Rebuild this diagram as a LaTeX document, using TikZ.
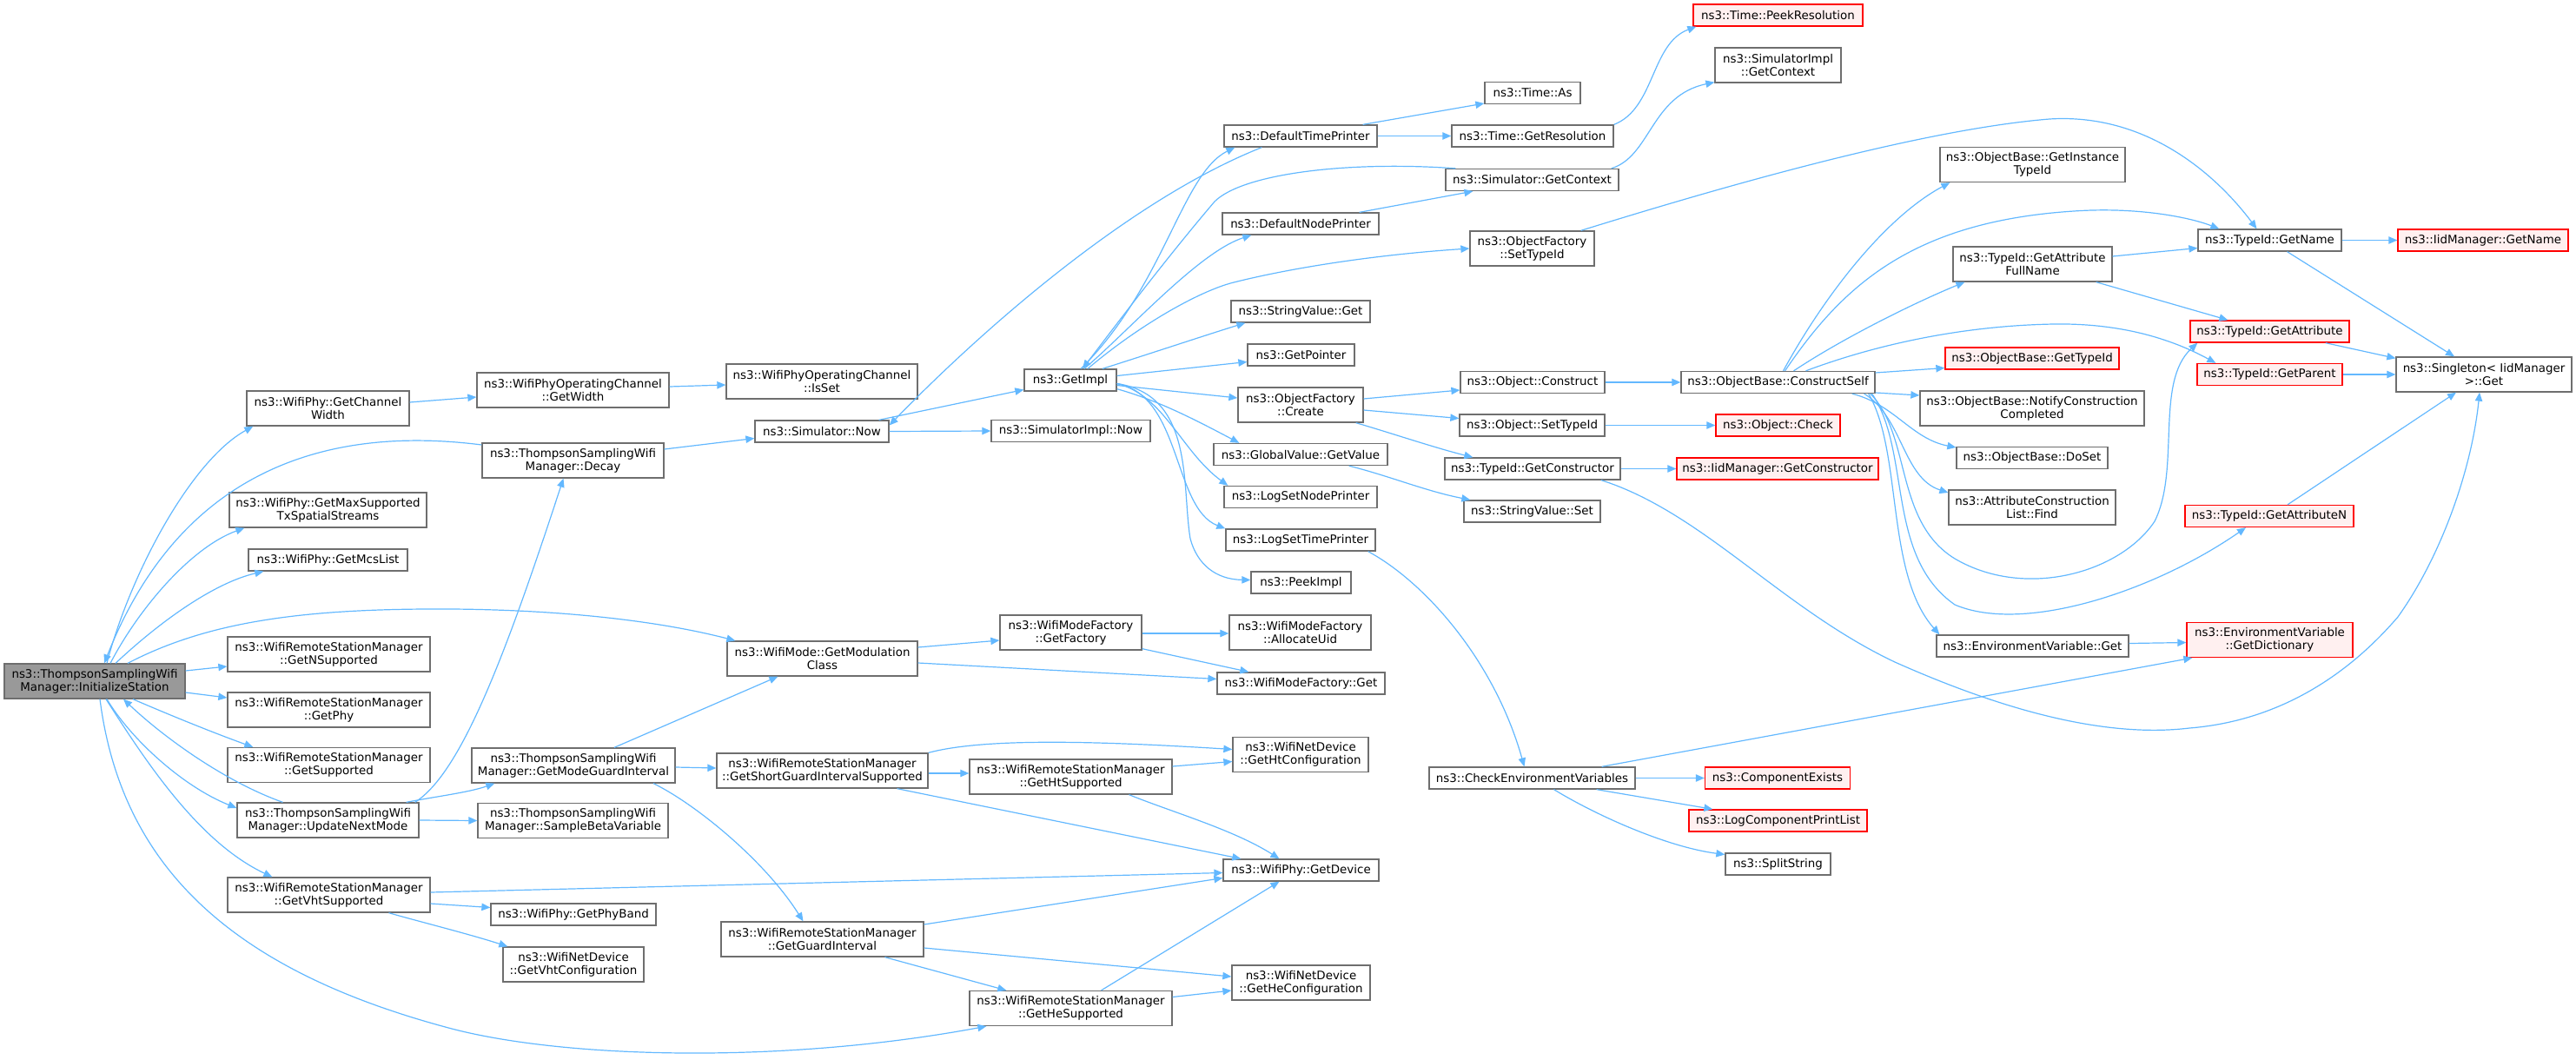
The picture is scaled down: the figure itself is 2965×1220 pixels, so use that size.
\documentclass[tikz,border=0pt]{standalone}
\usepackage{fontspec}
\setmainfont{DejaVu Sans}
\usetikzlibrary{arrows.meta,calc}
\definecolor{edgec}{HTML}{63B8FF}
\definecolor{bord}{HTML}{6E6E6E}
\definecolor{rootfill}{HTML}{999999}
\definecolor{redfill}{HTML}{FFF0F0}
\definecolor{redbord}{HTML}{FF0000}
\tikzset{
  nd/.style={draw=bord, fill=white, line width=0.65pt, inner sep=0pt, align=center,
    font=\fontsize{6.7pt}{7.4pt}\selectfont, text=black},
  rootnd/.style={fill=rootfill},
  rednd/.style={draw=redbord, fill=redfill},
  e/.style={draw=edgec, line width=0.6pt, -{Triangle[length=5pt,width=4.2pt]}}
}
\newcommand\bx[7][]{\node[nd,#1,minimum width=#5*0.5pt,minimum height=#6*0.5pt] (#2) at (#3,#4) {#7};}
\begin{document}
\begin{tikzpicture}[x=0.5pt,y=-0.5pt]
\useasboundingbox (0,0) rectangle (2965,1220);
% ---- nodes ----
\bx[rootnd]{init}{109}{784}{208}{40}{ns3::ThompsonSamplingWifi\\Manager::InitializeStation}
\bx{chw}{377.5}{470}{187}{40}{ns3::WifiPhy::GetChannel\\Width}
\bx{maxsup}{377.5}{587}{227}{40}{ns3::WifiPhy::GetMaxSupported\\TxSpatialStreams}
\bx{mcs}{377.5}{644.5}{183}{25}{ns3::WifiPhy::GetMcsList}
\bx{nsup}{378.5}{753}{233}{40}{ns3::WifiRemoteStationManager\\::GetNSupported}
\bx{getphy}{378.5}{817}{233}{40}{ns3::WifiRemoteStationManager\\::GetPhy}
\bx{getsup}{378.5}{880.5}{233}{40}{ns3::WifiRemoteStationManager\\::GetSupported}
\bx{unm}{377.5}{944}{209}{40}{ns3::ThompsonSamplingWifi\\Manager::UpdateNextMode}
\bx{vht}{378.5}{1030}{233}{40}{ns3::WifiRemoteStationManager\\::GetVhtSupported}
\bx{width}{659.5}{449}{221}{40}{ns3::WifiPhyOperatingChannel\\::GetWidth}
\bx{decay}{659.5}{530}{209}{40}{ns3::ThompsonSamplingWifi\\Manager::Decay}
\bx{gmgi}{660}{881}{234}{40}{ns3::ThompsonSamplingWifi\\Manager::GetModeGuardInterval}
\bx{sbv}{659.5}{944.5}{219}{40}{ns3::ThompsonSamplingWifi\\Manager::SampleBetaVariable}
\bx{phyband}{660}{1052.5}{190}{25}{ns3::WifiPhy::GetPhyBand}
\bx{vhtconf}{660}{1110}{162}{40}{ns3::WifiNetDevice\\::GetVhtConfiguration}
\bx{isset}{946}{439}{220}{40}{ns3::WifiPhyOperatingChannel\\::IsSet}
\bx{simnow}{946}{496.5}{154}{25}{ns3::Simulator::Now}
\bx{modclass}{946.5}{758}{219}{40}{ns3::WifiMode::GetModulation\\Class}
\bx{sgis}{946.5}{887}{243}{40}{ns3::WifiRemoteStationManager\\::GetShortGuardIntervalSupported}
\bx{gi}{946.5}{1081}{233}{40}{ns3::WifiRemoteStationManager\\::GetGuardInterval}
\bx{getimpl}{1232}{437.5}{106}{25}{ns3::GetImpl}
\bx{simimplnow}{1232.5}{496}{183}{25}{ns3::SimulatorImpl::Now}
\bx{getfactory}{1232.5}{728}{163}{40}{ns3::WifiModeFactory\\::GetFactory}
\bx{htsup}{1232.5}{894}{233}{40}{ns3::WifiRemoteStationManager\\::GetHtSupported}
\bx{hesup}{1232.5}{1160.5}{233}{40}{ns3::WifiRemoteStationManager\\::GetHeSupported}
\bx{dtp}{1497}{156.5}{176}{25}{ns3::DefaultTimePrinter}
\bx{dnp}{1497}{257.5}{180}{25}{ns3::DefaultNodePrinter}
\bx{svget}{1497}{358.5}{160}{25}{ns3::StringValue::Get}
\bx{getptr}{1497.5}{408.5}{123}{25}{ns3::GetPointer}
\bx{ofcreate}{1497}{466}{144}{40}{ns3::ObjectFactory\\::Create}
\bx{gvget}{1497}{523}{200}{25}{ns3::GlobalValue::GetValue}
\bx{lsnp}{1497}{572}{176}{25}{ns3::LogSetNodePrinter}
\bx{lstp}{1497}{621.5}{172}{25}{ns3::LogSetTimePrinter}
\bx{peekimpl}{1497.5}{670.5}{115}{25}{ns3::PeekImpl}
\bx{allocuid}{1496.5}{728}{163}{40}{ns3::WifiModeFactory\\::AllocateUid}
\bx{wmfget}{1497.5}{786.5}{193}{25}{ns3::WifiModeFactory::Get}
\bx{htconf}{1497}{868.5}{156}{40}{ns3::WifiNetDevice\\::GetHtConfiguration}
\bx{getdev}{1497.5}{1001.5}{179}{25}{ns3::WifiPhy::GetDevice}
\bx{heconf}{1497.5}{1131}{159}{40}{ns3::WifiNetDevice\\::GetHeConfiguration}
\bx{timeas}{1764}{107}{110}{25}{ns3::Time::As}
\bx{getres}{1764}{156.5}{186}{25}{ns3::Time::GetResolution}
\bx{simctx}{1763.5}{207}{199}{25}{ns3::Simulator::GetContext}
\bx{ofsettid}{1763.5}{286}{143}{40}{ns3::ObjectFactory\\::SetTypeId}
\bx{objconstruct}{1764}{440}{166}{25}{ns3::Object::Construct}
\bx{objsettid}{1763.5}{489.5}{167}{25}{ns3::Object::SetTypeId}
\bx{getctor}{1764}{539.5}{202}{25}{ns3::TypeId::GetConstructor}
\bx{svset}{1763.5}{588.5}{157}{25}{ns3::StringValue::Set}
\bx{cev}{1763.5}{895.5}{237}{25}{ns3::CheckEnvironmentVariables}
\bx[rednd]{peekres}{2046.5}{17.5}{195}{25}{ns3::Time::PeekResolution}
\bx{simimplctx}{2046.5}{75}{145}{40}{ns3::SimulatorImpl\\::GetContext}
\bx{cself}{2046.5}{440}{223}{25}{ns3::ObjectBase::ConstructSelf}
\bx[rednd]{objcheck}{2046.5}{489.5}{143}{25}{ns3::Object::Check}
\bx[rednd]{iidctor}{2046}{539.5}{232}{25}{ns3::IidManager::GetConstructor}
\bx[rednd]{compexists}{2046}{895.5}{167}{25}{ns3::ComponentExists}
\bx[rednd]{lcpl}{2046.5}{944.5}{205}{25}{ns3::LogComponentPrintList}
\bx{splitstr}{2046.5}{994.5}{121}{25}{ns3::SplitString}
\bx{getinst}{2339.5}{189.5}{213}{40}{ns3::ObjectBase::GetInstance\\TypeId}
\bx{gafn}{2339.5}{304}{183}{40}{ns3::TypeId::GetAttribute\\FullName}
\bx[rednd]{gettid}{2339}{412.5}{200}{25}{ns3::ObjectBase::GetTypeId}
\bx{notify}{2339}{470}{258}{40}{ns3::ObjectBase::NotifyConstruction\\Completed}
\bx{doset}{2339}{527}{174}{25}{ns3::ObjectBase::DoSet}
\bx{acfind}{2339}{584}{192}{40}{ns3::AttributeConstruction\\List::Find}
\bx{envget}{2339.5}{743.5}{221}{25}{ns3::EnvironmentVariable::Get}
\bx{tidgetname}{2612.5}{276.5}{165}{25}{ns3::TypeId::GetName}
\bx[rednd]{getattr}{2612.5}{381.5}{183}{25}{ns3::TypeId::GetAttribute}
\bx[rednd]{getparent}{2612.5}{431}{167}{25}{ns3::TypeId::GetParent}
\bx[rednd]{gattrn}{2612}{594}{194}{25}{ns3::TypeId::GetAttributeN}
\bx[rednd]{envdict}{2612.5}{736.5}{191}{40}{ns3::EnvironmentVariable\\::GetDictionary}
\bx[rednd]{iidgetname}{2858}{276.5}{196}{25}{ns3::IidManager::GetName}
\bx{singleton}{2859}{431}{202}{40}{ns3::Singleton< IidManager\\>::Get}
% ---- edges ----
\draw[e] ($(init.north)+(14,0)$) .. controls (150,660) and (220,530) .. ($(chw.south west)+(8,0)$);
\draw[e] ($(decay.west)+(0,-18)$) .. controls (420,495) and (220,510) .. ($(init.north)+(11,0)$);
\draw[e] ($(init.north)+(18,0)$) .. controls (160,700) and (220,630) .. ($(maxsup.south west)+(18,0)$);
\draw[e] ($(init.north)+(24,0)$) .. controls (190,710) and (250,670) .. ($(mcs.south west)+(18,0)$);
\draw[e] ($(init.north)+(38,0)$) .. controls (240,715) and (350,700) .. (520,701) .. controls (650,702) and (760,715) .. ($(modclass.north west)+(10,0)$);
\draw[e] ($(init.east)+(0,-12)$) -- ($(nsup.west)+(0,14)$);
\draw[e] ($(init.east)+(0,13)$) -- ($(getphy.west)+(0,-14)$);
\draw[e] ($(init.south)+(44,0)$) .. controls (200,825) and (250,845) .. ($(getsup.north west)+(30,0)$);
\draw[e] ($(unm.north)+(-52,0)$) .. controls (260,900) and (190,850) .. ($(init.south)+(33,0)$);
\draw[e] ($(init.south)+(14,0)$) .. controls (150,850) and (210,905) .. ($(unm.west)+(0,-14)$);
\draw[e] ($(init.south)+(13,0)$) .. controls (170,880) and (230,970) .. ($(vht.north west)+(52,0)$);
\draw[e] ($(init.south)+(6,0)$) .. controls (140,1000) and (270,1118) .. (520,1184) .. controls (650,1218) and (900,1225) .. ($(hesup.south west)+(20,0)$);
\draw[e] ($(unm.north east)+(-5,0)$) .. controls (530,890) and (580,760) .. ($(decay.south)+(-11,0)$);
\draw[e] ($(unm.north east)+(-15,0)$) .. controls (500,917) and (540,912) .. ($(gmgi.south west)+(27,0)$);
\draw[e] (unm.east) -- (sbv.west);
\draw[e] ($(vht.east)+(0,-3)$) -- ($(getdev.west)+(0,3)$);
\draw[e] ($(vht.east)+(0,10)$) -- ($(phyband.west)+(0,-8)$);
\draw[e] ($(vht.south)+(69,0)$) .. controls (480,1060) and (540,1075) .. ($(vhtconf.north west)+(6,0)$);
\draw[e] ($(chw.east)+(0,-7)$) -- ($(width.west)+(0,8)$);
\draw[e] ($(width.east)+(0,-4)$) -- ($(isset.west)+(0,4)$);
\draw[e] ($(decay.east)+(0,-13)$) -- ($(simnow.west)+(0,8)$);
\draw[e] ($(simnow.north east)+(-12,0)$) -- ($(getimpl.west)+(0,11)$);
\draw[e] ($(dtp.south west)+(44,0)$) .. controls (1300,230) and (1130,380) .. ($(simnow.east)+(0,-7)$);
\draw[e] (simnow.east) -- (simimplnow.west);
\draw[e] ($(getimpl.north)+(12,0)$) .. controls (1340,330) and (1360,200) .. ($(dtp.south west)+(13,0)$);
\draw[e] ($(simctx.north west)+(12,0)$) .. controls (1550,185) and (1430,200) .. (1398,232) .. controls (1340,300) and (1280,380) .. ($(getimpl.north)+(14,0)$);
\draw[e] ($(getimpl.north)+(16,0)$) .. controls (1300,380) and (1380,290) .. ($(dnp.south west)+(34,0)$);
\draw[e] ($(getimpl.north)+(20,0)$) .. controls (1310,375) and (1380,335) .. (1420,325) .. controls (1500,305) and (1600,292) .. (ofsettid.west);
\draw[e] ($(getimpl.north)+(37,0)$) .. controls (1330,405) and (1390,385) .. ($(svget.south west)+(17,0)$);
\draw[e] ($(getimpl.east)+(0,-5)$) -- ($(getptr.west)+(0,8)$);
\draw[e] ($(getimpl.east)+(0,6)$) -- ($(ofcreate.west)+(0,-8)$);
\draw[e] ($(getimpl.south east)+(0,-3)$) .. controls (1330,460) and (1370,480) .. ($(gvget.north west)+(30,0)$);
\draw[e] ($(getimpl.east)+(0,4)$) .. controls (1340,455) and (1360,520) .. ($(lsnp.north west)+(5,0)$);
\draw[e] ($(getimpl.east)+(0,4)$) .. controls (1360,455) and (1350,585) .. (lstp.north west);
\draw[e] ($(getimpl.east)+(0,4)$) .. controls (1375,455) and (1360,560) .. (1370,620) .. controls (1378,650) and (1400,667) .. ($(peekimpl.west)+(0,-3)$);
\draw[e] ($(modclass.east)+(0,-13)$) -- ($(getfactory.west)+(0,9)$);
\draw[e] ($(modclass.east)+(0,5)$) -- ($(wmfget.west)+(0,-5)$);
\draw[e] ($(getfactory.east)+(0,1)$) -- ($(allocuid.west)+(0,1)$);
\draw[e] ($(getfactory.south east)+(0,-2)$) -- ($(wmfget.north west)+(37,0)$);
\draw[e] ($(gmgi.north)+(47,0)$) -- ($(modclass.south west)+(59,0)$);
\draw[e] ($(gmgi.east)+(0,2)$) -- ($(sgis.west)+(0,-3)$);
\draw[e] ($(gmgi.south)+(92,0)$) .. controls (800,925) and (880,990) .. ($(gi.north)+(-22,0)$);
\draw[e] (sgis.north east) .. controls (1130,850) and (1250,852) .. ($(htconf.west)+(0,-6)$);
\draw[e] ($(sgis.east)+(0,3)$) -- ($(htsup.west)+(0,-4)$);
\draw[e] ($(sgis.south)+(86,0)$) -- ($(getdev.north west)+(21,0)$);
\draw[e] ($(htsup.east)+(0,-12)$) -- ($(htconf.west)+(0,8)$);
\draw[e] ($(htsup.south)+(67,0)$) .. controls (1350,935) and (1420,955) .. ($(getdev.north)+(-25,0)$);
\draw[e] ($(gi.east)+(0,-17)$) -- ($(getdev.west)+(0,9)$);
\draw[e] ($(gi.east)+(0,10)$) -- ($(heconf.west)+(0,-7)$);
\draw[e] ($(gi.south)+(72,0)$) -- ($(hesup.north west)+(43,0)$);
\draw[e] ($(hesup.east)+(0,-13)$) -- ($(heconf.west)+(0,9)$);
\draw[e] ($(hesup.north)+(35,0)$) -- ($(getdev.south)+(-25,0)$);
\draw[e] ($(dtp.north east)+(-17,0)$) -- ($(timeas.west)+(0,12)$);
\draw[e] (dtp.east) -- (getres.west);
\draw[e] (getres.north east) .. controls (1905,125) and (1900,50) .. ($(peekres.south west)+(4,0)$);
\draw[e] ($(dnp.north east)+(-23,0)$) -- ($(simctx.south west)+(32,0)$);
\draw[e] ($(simctx.north east)+(-9,0)$) .. controls (1900,180) and (1900,110) .. ($(simimplctx.south west)+(0,-1)$);
\draw[e] ($(ofsettid.north east)+(-16,0)$) .. controls (1950,225) and (2200,150) .. (2359,137) .. controls (2470,130) and (2550,200) .. ($(tidgetname.north)+(-15,0)$);
\draw[e] ($(ofcreate.east)+(0,-7)$) -- ($(objconstruct.west)+(0,9)$);
\draw[e] ($(ofcreate.east)+(0,6)$) -- ($(objsettid.west)+(0,-8)$);
\draw[e] ($(ofcreate.south east)+(-9,0)$) .. controls (1600,498) and (1650,515) .. ($(getctor.north west)+(33,0)$);
\draw[e] ($(gvget.south east)+(-45,0)$) .. controls (1600,548) and (1640,565) .. ($(svset.north west)+(8,0)$);
\draw[e] ($(lstp.south east)+(-9,0)$) .. controls (1640,670) and (1720,760) .. ($(cev.north)+(-9,0)$);
\draw[e] (objconstruct.east) -- (cself.west);
\draw[e] (objsettid.east) -- (objcheck.west);
\draw[e] (getctor.east) -- (iidctor.west);
\draw[e] ($(getctor.south)+(79,0)$) .. controls (1960,590) and (2050,700) .. (2181,762) .. controls (2300,815) and (2420,850) .. (2520,838) .. controls (2620,830) and (2700,780) .. (2760,710) .. controls (2810,640) and (2845,540) .. ($(singleton.south)+(-5,0)$);
\draw[e] ($(cself.north)+(6,0)$) .. controls (2100,340) and (2170,250) .. ($(getinst.south west)+(12,0)$);
\draw[e] ($(cself.north)+(8,0)$) .. controls (2120,330) and (2200,255) .. (2387,243) .. controls (2460,238) and (2520,250) .. ($(tidgetname.north west)+(25,0)$);
\draw[e] ($(cself.north)+(18,0)$) .. controls (2120,390) and (2200,350) .. ($(gafn.south west)+(14,0)$);
\draw[e] ($(cself.north)+(32,0)$) .. controls (2150,400) and (2250,375) .. (2364,373) .. controls (2430,372) and (2490,385) .. ($(getparent.north west)+(22,0)$);
\draw[e] ($(cself.east)+(0,-11)$) -- ($(gettid.west)+(0,11)$);
\draw[e] ($(cself.east)+(0,12)$) -- ($(notify.west)+(0,-15)$);
\draw[e] ($(cself.south east)+(-27,0)$) .. controls (2180,465) and (2200,505) .. ($(doset.west)+(0,-12)$);
\draw[e] ($(cself.south east)+(-13,0)$) .. controls (2190,480) and (2190,550) .. ($(acfind.west)+(0,-17)$);
\draw[e] ($(cself.south east)+(-8,0)$) .. controls (2190,520) and (2170,660) .. ($(envget.north west)+(4,0)$);
\draw[e] ($(cself.south east)+(-6,0)$) .. controls (2200,500) and (2180,600) .. (2250,643) .. controls (2330,690) and (2440,660) .. (2480,600) .. controls (2510,540) and (2480,440) .. ($(getattr.south west)+(9,0)$);
\draw[e] ($(cself.south east)+(-4,0)$) .. controls (2200,520) and (2170,640) .. (2250,696) .. controls (2330,730) and (2480,680) .. ($(gattrn.south)+(-27,0)$);
\draw[e] ($(gafn.east)+(0,-9)$) -- ($(tidgetname.west)+(0,9)$);
\draw[e] ($(gafn.south east)+(-19,0)$) -- ($(getattr.north west)+(44,0)$);
\draw[e] (tidgetname.east) -- (iidgetname.west);
\draw[e] ($(tidgetname.south)+(20,0)$) -- ($(singleton.north)+(-34,0)$);
\draw[e] ($(getattr.south east)+(-28,0)$) -- ($(singleton.north west)+(0,2)$);
\draw[e] (getparent.east) -- (singleton.west);
\draw[e] ($(gattrn.north)+(21,0)$) -- ($(singleton.south)+(-32,0)$);
\draw[e] ($(envget.east)+(0,-3)$) -- ($(envdict.west)+(0,3)$);
\draw[e] ($(cev.north east)+(-39,0)$) -- ($(envdict.south west)+(7,0)$);
\draw[e] (cev.east) -- (compexists.west);
\draw[e] ($(cev.south east)+(-45,0)$) -- ($(lcpl.north west)+(28,0)$);
\draw[e] ($(cev.south)+(25,0)$) .. controls (1840,940) and (1920,975) .. ($(splitstr.west)+(0,-11)$);
\end{tikzpicture}
\end{document}
